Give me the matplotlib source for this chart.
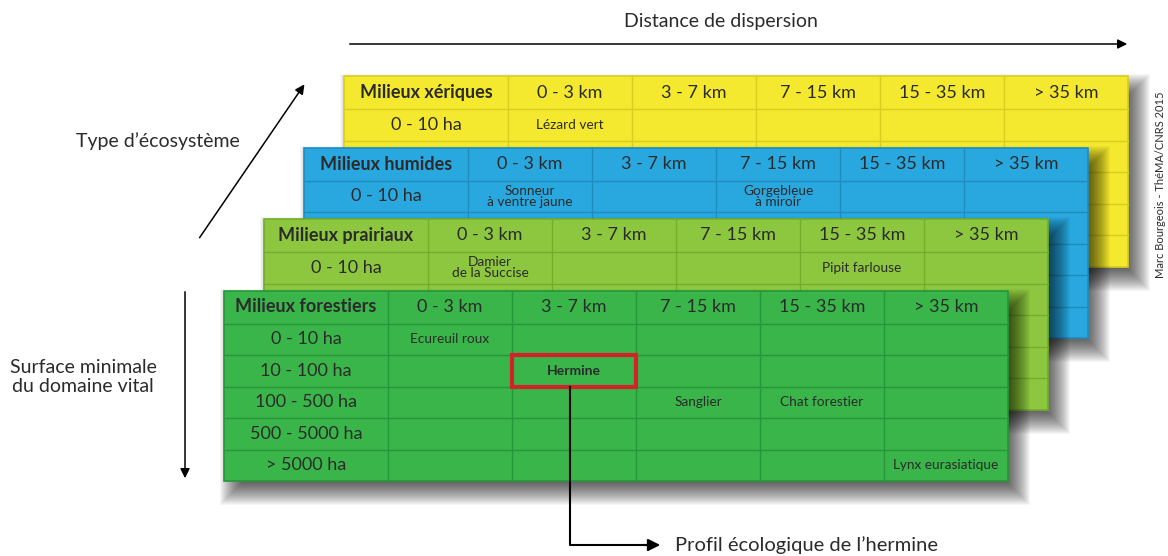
#!/usr/bin/env python3
"""Stacked ecosystem tables: dispersal distance vs minimal home-range area."""
import matplotlib
matplotlib.use("Agg")
import matplotlib.pyplot as plt
from matplotlib.patches import Rectangle, FancyArrowPatch

plt.rcParams["font.family"] = ["Lato", "DejaVu Sans"]

# --- data -----------------------------------------------------------------
environments = ["Milieux xériques", "Milieux humides", "Milieux prairiaux", "Milieux forestiers"]
env_colors = ["#F4E92E", "#29A8DF", "#8DC63F", "#39B54A"]
env_lines = ["#D9CE1F", "#1F8CC0", "#74AD2C", "#25963A"]
distances = ["0 - 3 km", "3 - 7 km", "7 - 15 km", "15 - 35 km", "> 35 km"]
surfaces = ["0 - 10 ha", "10 - 100 ha", "100 - 500 ha", "500 - 5000 ha", "> 5000 ha"]

# species placed as (environment index, surface index, distance index, name)
species = [
    (0, 0, 0, "Lézard vert"),
    (1, 0, 0, "Sonneur\nà ventre jaune"),
    (1, 0, 2, "Gorgebleue\nà miroir"),
    (2, 0, 0, "Damier\nde la Succise"),
    (2, 0, 3, "Pipit farlouse"),
    (3, 0, 0, "Ecureuil roux"),
    (3, 1, 1, "Hermine"),
    (3, 2, 2, "Sanglier"),
    (3, 2, 3, "Chat forestier"),
    (3, 4, 4, "Lynx eurasiatique"),
]
highlight = (3, 1, 1)

# --- layout ---------------------------------------------------------------
fig = plt.figure(figsize=(11.68, 5.56), dpi=100)
ax = fig.add_axes([0, 0, 1, 1])
ax.set_xlim(0, 1168)
ax.set_ylim(556, 0)
ax.axis("off")

x0, y0 = 344, 76          # top-left of back table
dx, dy = -40, 71.5        # offset between stacked tables
w_first, w_col = 164, 124
h_head, h_row = 33, 31.5
txt = "#2b2b2b"
n_env = len(environments)

for k, env in enumerate(environments):
    left, top = x0 + k * dx, y0 + k * dy
    width = w_first + w_col * len(distances)
    height = h_head + h_row * len(surfaces)
    z = 10 * (k + 1)
    next_top = y0 + (k + 1) * dy if k < n_env - 1 else 1e9

    # blurred drop shadow, offset down-right
    for s in range(26):
        e = 13 - s * 1.0
        ax.add_patch(Rectangle((left + 9 - e, top + 11 - e), width + 2 * e, height + 2 * e,
                               facecolor="black", edgecolor="none", alpha=0.035, zorder=z))
    ax.add_patch(Rectangle((left, top), width, height, facecolor=env_colors[k],
                           edgecolor=env_lines[k], lw=1.2, zorder=z + 1))
    # grid
    xs = [left + w_first + i * w_col for i in range(len(distances))]
    for xv in xs:
        ax.plot([xv, xv], [top, top + height], color=env_lines[k], lw=1, zorder=z + 2)
    ys = [top + h_head + i * h_row for i in range(len(surfaces))]
    for yv in ys:
        ax.plot([left, left + width], [yv, yv], color=env_lines[k], lw=1, zorder=z + 2)

    # header row
    ax.text(left + w_first / 2, top + h_head / 2, env, ha="center", va="center",
            fontsize=13, fontweight="bold", color=txt, zorder=z + 3)
    for i, d in enumerate(distances):
        ax.text(xs[i] + w_col / 2, top + h_head / 2, d, ha="center", va="center",
                fontsize=13, color=txt, zorder=z + 3)
    # surface labels (only rows not hidden by the next table)
    for j, s in enumerate(surfaces):
        if ys[j] + h_row > next_top:
            continue
        ax.text(left + w_first / 2, ys[j] + h_row / 2, s, ha="center", va="center",
                fontsize=13, color=txt, zorder=z + 3)

    for e, r, c, name in species:
        if e != k:
            continue
        bold = (e, r, c) == highlight
        ax.text(xs[c] + w_col / 2, ys[r] + h_row / 2, name, ha="center", va="center",
                fontsize=10 if bold else 9.8, fontweight="bold" if bold else "normal",
                color=txt, linespacing=0.92, zorder=z + 3)
        if bold:
            ax.add_patch(Rectangle((xs[c], ys[r]), w_col, h_row, facecolor="none",
                                   edgecolor="#D2232A", lw=3, zorder=z + 4))
            hx = xs[c] + 58
            ax.plot([hx, hx, 655], [ys[r] + h_row, 545, 545], color="black",
                    lw=1.5, zorder=z + 4)
            ax.add_patch(FancyArrowPatch((640, 545), (663, 545), arrowstyle="-|>",
                                         mutation_scale=18, color="black", lw=1.5,
                                         zorder=z + 4))
            ax.text(675, 545, "Profil écologique de l\u2019hermine", ha="left",
                    va="center", fontsize=14.5, color=txt, zorder=z + 4)

# axis arrows and labels
arrow_kw = dict(arrowstyle="-|>", mutation_scale=14, color="black", lw=1.1)
ax.add_patch(FancyArrowPatch((347, 44), (1130, 44), **arrow_kw))
ax.text(721, 22, "Distance de dispersion", ha="center", va="center", fontsize=14, color=txt)
ax.add_patch(FancyArrowPatch((198, 240), (306, 82), **arrow_kw))
ax.text(158, 141, "Type d\u2019écosystème", ha="center", va="center", fontsize=14, color=txt)
ax.add_patch(FancyArrowPatch((185, 289), (185, 481), **arrow_kw))
ax.text(83, 377, "Surface minimale\ndu domaine vital", ha="center", va="center",
        fontsize=14, color=txt, linespacing=1.15)
ax.text(1160, 185, "Marc Bourgeois - ThéMA/CNRS 2015", rotation=90, ha="center",
        va="center", fontsize=8, color=txt)

fig.savefig("out.png", dpi=100)
